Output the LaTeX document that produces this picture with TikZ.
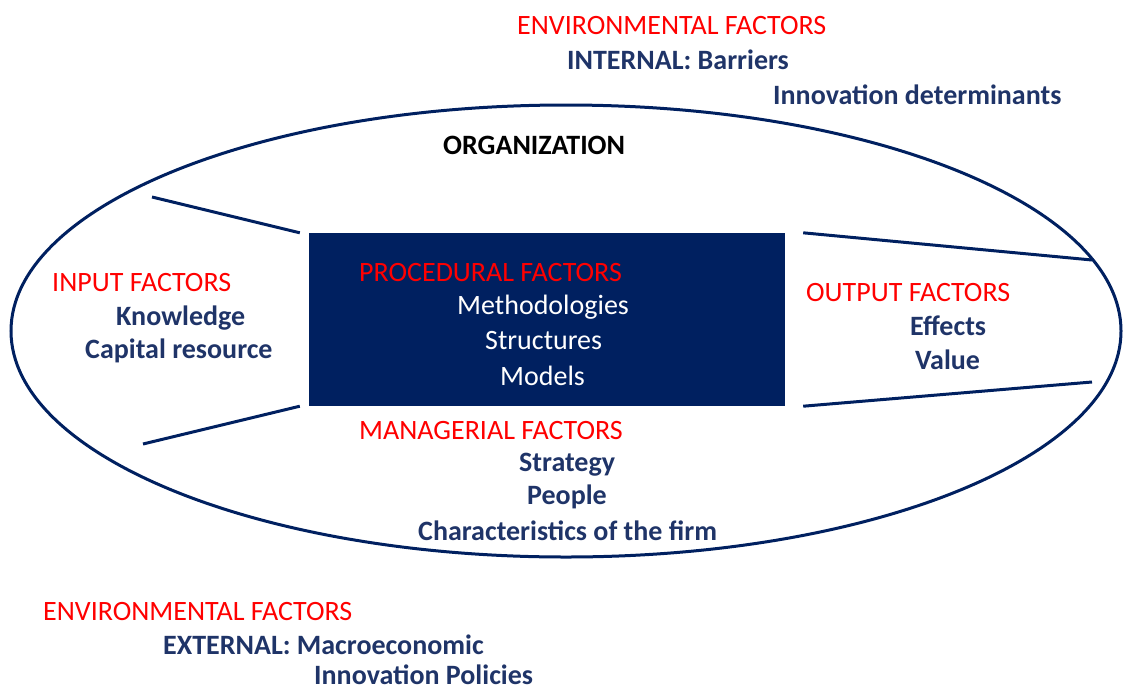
\documentclass[tikz,border=0pt]{standalone}
\usepackage{fontspec}
\setmainfont{Carlito}
\usetikzlibrary{positioning}
\definecolor{navy}{HTML}{002060}
\definecolor{ink}{HTML}{1F3468}
\tikzset{%
  head/.style={anchor=west,inner sep=0pt,text=red,font=\fontsize{28}{32}\selectfont},
  item/.style={anchor=west,inner sep=0pt,text=ink,font=\fontsize{28}{32}\selectfont\bfseries},
  initem/.style={anchor=west,inner sep=0pt,text=white,font=\fontsize{28}{32}\selectfont},
  edge/.style={draw=navy,line width=3pt}
}

\begin{document}
\begin{tikzpicture}[x=1pt,y=-1pt]
  \useasboundingbox (0,0) rectangle (1123,691);

  % organization outline
  \draw[navy,line width=3pt] (566,331) ellipse [x radius=555,y radius=226];
  \node[item,text=black] (org) at (443,145) {ORGANIZATION};

  % procedural core
  \node[fill=navy,minimum width=476pt,minimum height=173pt,inner sep=0pt]
    (box) at (547,319.5) {};
  \node[head] (proc) at (359,273) {PROCEDURAL FACTORS};
  \node[initem] (meth) at (457,307) {Methodologies};
  \node[initem] (struct) at (485,341) {Structures};
  \node[initem] (models) at (500,376) {Models};

  % funnel lines
  \coordinate (inA) at (152,197);
  \coordinate (inB) at (143,444);
  \coordinate (outA) at (1092,260);
  \coordinate (outB) at (1092,382);
  \draw[edge] (inA) -- ([xshift=-9pt]box.north west);
  \draw[edge] (inB) -- ([xshift=-9pt]box.south west);
  \draw[edge] ([xshift=18pt]box.north east) -- (outA);
  \draw[edge] ([xshift=18pt]box.south east) -- (outB);

  % input side
  \node[head] (input) at (52,283) {INPUT FACTORS};
  \node[item] (know) at (116,318) {Knowledge};
  \node[item] (capital) at (85,351) {Capital resource};

  % output side
  \node[head] (output) at (806,293) {OUTPUT FACTORS};
  \node[item] (effects) at (910,326) {Effects};
  \node[item] (value) at (915,360) {Value};

  % managerial
  \node[head] (mgr) at (359,431) {MANAGERIAL FACTORS};
  \node[item] (strat) at (519,465) {Strategy};
  \node[item] (people) at (527,497) {People};
  \node[item] (firm) at (418,531) {Characteristics of the firm};

  % environment, internal
  \node[head] (envin) at (517,26) {ENVIRONMENTAL FACTORS};
  \node[item] (internal) at (567,60) {INTERNAL: Barriers};
  \node[item] (determ) at (773,95) {Innovation determinants};

  % environment, external
  \node[head] (envex) at (43,611) {ENVIRONMENTAL FACTORS};
  \node[item] (external) at (163,645) {EXTERNAL: Macroeconomic};
  \node[item] (policy) at (314,675) {Innovation Policies};
\end{tikzpicture}
\end{document}
